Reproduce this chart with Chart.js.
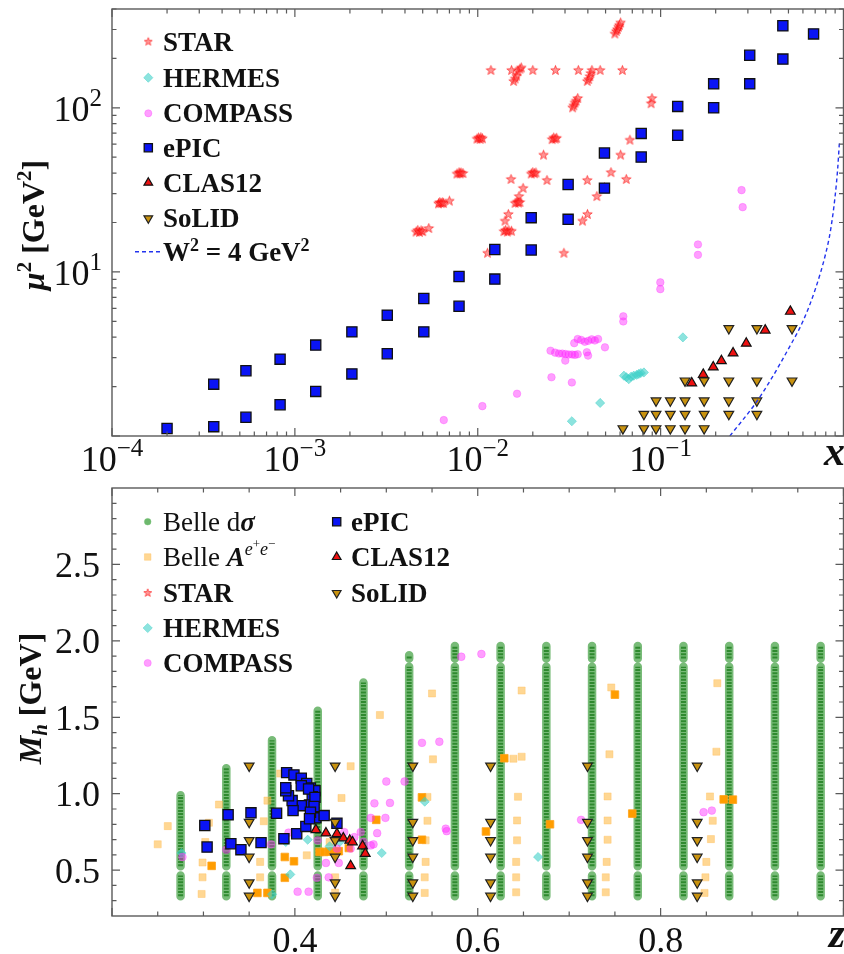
<!DOCTYPE html>
<html>
<head>
<meta charset="utf-8">
<script src="https://cdn.jsdelivr.net/npm/chart.js@4.4.1/dist/chart.umd.min.js"></script>
<style>
  html, body { margin: 0; padding: 0; background: #fff; overflow: hidden; width: 844px; height: 954px; }
  canvas { position: absolute; left: 0; }
  #top { top: 0; }
  #bottom { top: 474px; }
</style>
</head>
<body>
<canvas id="top" width="852" height="474"></canvas>
<canvas id="bottom" width="852" height="480"></canvas>
<script>
// ---------- top panel: mu^2 [GeV^2] vs x ----------
const starX = [
  0.0046, 0.0047, 0.0048, 0.0049, 0.0050, 0.0054,
  0.0061, 0.0062, 0.0063, 0.0064, 0.0065, 0.0070,
  0.0077, 0.0079, 0.0080, 0.0081, 0.0083,
  0.0099, 0.0101, 0.0103, 0.0104, 0.0106,
  0.0118, 0.0153, 0.0157, 0.0160, 0.0163, 0.0166, 0.0170, 0.0173, 0.0200, 0.0266, 0.0355,
  0.0397, 0.0404, 0.0410, 0.0415, 0.0421, 0.0467, 0.0618,
  0.0562, 0.0572, 0.0580, 0.0588, 0.0595, 0.0604,
  0.0330, 0.0335, 0.0340, 0.0345, 0.0352, 0.0887, 0.0897,
  0.0255, 0.0260, 0.0265, 0.0270, 0.0229,
  0.0196, 0.0200, 0.0204, 0.0208,
  0.0152, 0.0177, 0.0168, 0.0160, 0.0164, 0.0167, 0.0170, 0.0147, 0.0141,
  0.0139, 0.0142, 0.0145, 0.0148, 0.0153,
  0.0239, 0.0397, 0.0535, 0.0604, 0.0679, 0.0649, 0.0448, 0.0493, 0.0398, 0.0374, 0.0113, 0.0296
];
const starMu2 = [
  17.5, 17.9, 17.4, 17.8, 17.6, 18.4,
  26.0, 26.5, 26.1, 26.4, 26.2, 27.0,
  39.5, 40.2, 39.6, 40.1, 39.8,
  64.5, 65.5, 64.2, 65.8, 64.8,
  169, 169, 145, 150, 156, 166, 172, 175, 169, 169, 169,
  145, 149, 155, 162, 169, 169, 169,
  282, 292, 300, 310, 318, 329,
  100, 103, 107, 110, 114, 106, 114,
  64, 65.5, 64.5, 65.2, 51.5,
  39.5, 40.3, 39.7, 40.1,
  36.6, 32.3, 28.8, 26.2, 26.6, 26.3, 26.5, 22.4, 20.4,
  17.6, 17.9, 17.5, 17.8, 17.7,
  36.1, 36.1, 40.3, 51.5, 63.5, 36.6, 28.8, 32.6, 22.4, 20.4, 13.0, 13.0
];
const hermesX = [0.0327, 0.0467, 0.063, 0.065, 0.067, 0.069, 0.0713, 0.074, 0.076, 0.078, 0.081, 0.1324];
const hermesMu2 = [1.23, 1.59, 2.33, 2.28, 2.22, 2.30, 2.33, 2.36, 2.39, 2.42, 2.44, 3.99];
const compassX = [
  0.00652, 0.0106, 0.0164, 0.0253, 0.0327, 0.0301,
  0.0250, 0.0265, 0.0278, 0.0290, 0.0302, 0.0315, 0.0328, 0.0340, 0.0352,
  0.0337, 0.0352, 0.0368, 0.0385, 0.0402, 0.0420, 0.0437, 0.0455, 0.0496, 0.0395, 0.0401,
  0.0625, 0.0625, 0.0996, 0.0996, 0.160, 0.160, 0.277, 0.281
];
const compassMu2 = [
  1.25, 1.52, 1.81, 2.28, 2.12, 2.88,
  3.31, 3.22, 3.18, 3.18, 3.16, 3.14, 3.14, 3.12, 3.15,
  3.68, 3.90, 3.85, 3.75, 3.80, 3.88, 3.82, 3.90, 3.47, 3.24, 3.09,
  5.36, 4.99, 8.63, 7.85, 14.7, 12.7, 31.5, 24.8
];
const epicX = [
  2.0e-4, 3.6e-4, 3.6e-4, 5.4e-4, 5.4e-4, 8.3e-4, 8.3e-4, 1.3e-3, 1.3e-3,
  2.05e-3, 2.05e-3, 3.2e-3, 3.2e-3, 5.07e-3, 5.07e-3, 7.9e-3, 7.9e-3,
  0.0124, 0.0124, 0.0196, 0.0196, 0.0312, 0.0312, 0.0493, 0.0493,
  0.0783, 0.0783, 0.124, 0.124, 0.195, 0.195, 0.307, 0.307, 0.466, 0.466, 0.686
];
const epicMu2 = [
  1.11, 2.07, 1.14, 2.50, 1.30, 2.94, 1.55, 3.58, 1.87,
  4.31, 2.39, 5.45, 3.17, 6.89, 4.31, 9.37, 6.17,
  13.7, 9.04, 21.4, 13.6, 34.1, 20.9, 53, 32.4,
  69.8, 50.1, 102, 68, 140, 100, 209, 140, 316, 198, 282
];
const clasX = [0.148, 0.171, 0.194, 0.215, 0.249, 0.294, 0.373, 0.512];
const clasMu2 = [2.10, 2.37, 2.63, 2.87, 3.20, 3.67, 4.41, 5.74];
const solidX = [
  0.0622, 0.081, 0.0944, 0.113, 0.136, 0.173,
  0.081, 0.0944, 0.113, 0.136, 0.173, 0.236, 0.336,
  0.0944, 0.113, 0.136, 0.173, 0.236, 0.336,
  0.136, 0.173, 0.236, 0.336, 0.523,
  0.236, 0.336, 0.523
];
const solidMu2 = [
  1.11, 1.11, 1.11, 1.11, 1.11, 1.11,
  1.36, 1.36, 1.36, 1.36, 1.36, 1.36, 1.36,
  1.64, 1.64, 1.64, 1.64, 1.64, 1.64,
  2.17, 2.17, 2.17, 2.17, 2.17,
  4.53, 4.53, 4.53
];
// W^2 = 4 GeV^2 boundary
const w2X = [0.239, 0.33, 0.40, 0.50, 0.60, 0.70, 0.80, 0.85, 0.90, 0.93, 0.95];
const w2Mu2 = [1.0, 1.58, 2.2, 3.4, 5.0, 7.8, 13, 18, 29, 43, 62];

const topXTicks = [1e-4, 1e-3, 1e-2, 1e-1];
const topXTickLabels = [['10', '−4'], ['10', '−3'], ['10', '−2'], ['10', '−1']];
const topYTicks = [1, 10, 100];
const topYTickLabels = [null, ['10', '1'], ['10', '2']];

// ---------- bottom panel: M_h [GeV] vs z ----------
const belleZ = [0.275, 0.325, 0.375, 0.425, 0.475, 0.525, 0.575, 0.625, 0.675, 0.725, 0.775, 0.825, 0.875, 0.925, 0.975];
const belleMTop = [0.99, 1.167, 1.35, 1.542, 1.728, 1.906, 1.967, 1.967, 1.967, 1.967, 1.967, 1.967, 1.967, 1.967, 1.967];
const belleMBottom = 0.33;
const belleGaps = [[0.465, 0.525], [1.83, 1.885]];

const belleAZ = [
  0.261, 0.250, 0.299, 0.299, 0.298, 0.302, 0.306, 0.317, 0.370, 0.366, 0.362, 0.362, 0.384, 0.413,
  0.451, 0.461, 0.493, 0.551, 0.545, 0.545, 0.543, 0.543, 0.542, 0.542, 0.444, 0.444, 0.438, 0.550,
  0.648, 0.644, 0.643, 0.643, 0.642, 0.642, 0.642, 0.639, 0.648,
  0.746, 0.744, 0.742, 0.742, 0.742, 0.741, 0.740, 0.740,
  0.862, 0.861, 0.854, 0.857, 0.855, 0.850, 0.849, 0.848
];
const belleAM = [
  0.788, 0.669, 0.550, 0.453, 0.344, 0.684, 0.810, 0.929, 0.955, 0.820, 0.554, 0.453, 1.132, 0.597,
  0.972, 1.180, 1.515, 1.225, 0.979, 0.823, 0.695, 0.554, 0.453, 0.351, 0.453, 0.353, 0.684, 1.656,
  1.675, 0.980, 0.825, 0.695, 0.554, 0.453, 0.355, 1.229, 1.242,
  1.695, 1.258, 0.982, 0.825, 0.699, 0.554, 0.453, 0.355,
  1.723, 1.275, 0.982, 0.823, 0.703, 0.554, 0.453, 0.351
];
// overlapping Belle A points that show up saturated
const belleA2Z = [0.309, 0.389, 0.399, 0.389, 0.359, 0.370, 0.427, 0.432, 0.437, 0.442, 0.448, 0.459, 0.489,
  0.539, 0.539, 0.629, 0.609, 0.679, 0.750, 0.769, 0.869, 0.879];
const belleA2M = [0.528, 0.586, 0.558, 0.450, 0.351, 0.351, 0.619, 0.619, 0.621, 0.622, 0.624, 0.645, 0.829,
  0.976, 0.699, 1.232, 0.753, 0.800, 1.648, 0.870, 0.963, 0.961];

const hermesZ = [0.276, 0.395, 0.390, 0.375, 0.414, 0.438, 0.449, 0.495, 0.542, 0.666];
const hermesM = [0.612, 0.472, 0.684, 0.342, 0.699, 0.656, 0.684, 0.612, 0.948, 0.586];

const compassZ = [
  0.277, 0.325, 0.374, 0.393, 0.403, 0.415, 0.424, 0.434, 0.437, 0.448, 0.446, 0.454, 0.465, 0.472,
  0.475, 0.483, 0.486, 0.483, 0.490, 0.487, 0.499, 0.504, 0.500, 0.520, 0.539, 0.558, 0.565, 0.566,
  0.461, 0.425, 0.582, 0.604, 0.713, 0.847, 0.856
];
const compassM = [
  0.586, 0.634, 0.669, 0.745, 0.359, 0.359, 0.450, 0.547, 0.453, 0.547, 0.641, 0.749, 0.716, 0.749,
  0.684, 0.662, 0.669, 0.842, 0.742, 0.937, 0.842, 0.940, 1.080, 1.080, 1.333, 1.340, 0.771, 0.755,
  0.641, 0.695, 1.896, 1.914, 0.829, 0.879, 0.890
];

const epicZ = [
  0.3015, 0.304, 0.327, 0.330, 0.341, 0.352, 0.363, 0.380, 0.388, 0.402, 0.412, 0.423, 0.432, 0.446,
  0.391, 0.399, 0.407, 0.413, 0.417, 0.422, 0.419, 0.416, 0.407, 0.398, 0.397, 0.393, 0.390, 0.390,
  0.407, 0.415, 0.422, 0.421, 0.417, 0.416
];
const epicM = [
  0.792, 0.651, 0.862, 0.673, 0.634, 0.875, 0.680, 0.872, 0.706, 0.738, 0.786, 0.842, 0.857, 0.807,
  1.138, 1.123, 1.102, 1.067, 1.037, 1.019, 0.981, 0.927, 0.922, 0.890, 0.955, 0.987, 1.019, 1.039,
  1.052, 1.031, 0.976, 0.916, 0.879, 0.836
];

const clasZ = [0.423, 0.434, 0.446, 0.453, 0.460, 0.463, 0.474, 0.477, 0.461];
const clasM = [0.764, 0.742, 0.738, 0.710, 0.695, 0.684, 0.658, 0.608, 0.528];

const solidZCols = [0.350, 0.444, 0.529, 0.614, 0.720, 0.840];
const solidMRows = [1.182, 0.814, 0.695, 0.586, 0.418, 0.331];

const botXTicks = [0.4, 0.6, 0.8];
const botXTickLabels = ['0.4', '0.6', '0.8'];
const botYTicks = [0.5, 1.0, 1.5, 2.0, 2.5];
const botYTickLabels = ['0.5', '1.0', '1.5', '2.0', '2.5'];

// ---------- helpers ----------
const F = "'Liberation Serif', 'DejaVu Serif', serif";
const pts = (xs, ys) => xs.map((v, i) => ({ x: v, y: ys[i] }));

function starImage(r) {
  const s = Math.ceil(2 * r + 3);
  const c = document.createElement('canvas');
  c.width = s; c.height = s;
  const g = c.getContext('2d');
  g.beginPath();
  for (let i = 0; i < 10; i++) {
    const rr = i % 2 ? r * 0.42 : r;
    const a = -Math.PI / 2 + i * Math.PI / 5;
    g.lineTo(s / 2 + rr * Math.cos(a), s / 2 + rr * Math.sin(a));
  }
  g.closePath();
  g.fillStyle = 'rgba(255,60,60,0.55)';
  g.fill();
  g.strokeStyle = 'rgba(255,0,0,0.6)';
  g.lineWidth = 0.9;
  g.stroke();
  return c;
}
const starImg = starImage(5);
const starImgSmall = starImage(4.2);

// draws a run of [text, font, dy] pieces
function rich(ctx, parts, x, y, align) {
  let w = 0;
  parts.forEach(p => { ctx.font = p[1]; w += ctx.measureText(p[0]).width; });
  let cx = align === 'center' ? x - w / 2 : align === 'right' ? x - w : x;
  ctx.textAlign = 'left';
  ctx.textBaseline = 'alphabetic';
  parts.forEach(p => {
    ctx.font = p[1];
    ctx.fillText(p[0], cx, y + (p[2] || 0));
    cx += ctx.measureText(p[0]).width;
  });
}

function drawFrame(chart, xMaj, xMin, yMaj, yMin) {
  const { ctx, chartArea: a, scales: { x, y } } = chart;
  ctx.save();
  ctx.strokeStyle = '#5a5a5a';
  ctx.lineWidth = 1.2;
  ctx.beginPath();
  const seg = (x1, y1, x2, y2) => { ctx.moveTo(x1, y1); ctx.lineTo(x2, y2); };
  xMaj.forEach(v => { const p = x.getPixelForValue(v); seg(p, a.bottom, p, a.bottom - 8); seg(p, a.top, p, a.top + 8); });
  xMin.forEach(v => { const p = x.getPixelForValue(v); seg(p, a.bottom, p, a.bottom - 4.5); seg(p, a.top, p, a.top + 4.5); });
  yMaj.forEach(v => { const p = y.getPixelForValue(v); seg(a.left, p, a.left + 8, p); seg(a.right, p, a.right - 8, p); });
  yMin.forEach(v => { const p = y.getPixelForValue(v); seg(a.left, p, a.left + 4.5, p); seg(a.right, p, a.right - 4.5, p); });
  ctx.stroke();
  ctx.lineWidth = 1.4;
  ctx.strokeRect(a.left, a.top, a.right - a.left, a.bottom - a.top);
  ctx.restore();
}

function legendMark(ctx, m, x, y) {
  ctx.save();
  ctx.fillStyle = m.bg;
  ctx.strokeStyle = m.border || m.bg;
  ctx.lineWidth = m.bw || 0;
  Chart.helpers.drawPoint(ctx, { pointStyle: m.style, radius: m.r, rotation: m.rot || 0, borderWidth: m.bw || 0 }, x, y);
  ctx.restore();
}

const sty = {
  star: { style: starImgSmall, r: 4.2, bg: 'rgba(255,70,70,0.5)' },
  hermes: { style: 'rectRot', r: 4.6, bg: 'rgba(64,208,200,0.6)', border: 'rgba(64,208,200,0.6)', bw: 0.8 },
  compass: { style: 'circle', r: 3.6, bg: 'rgba(255,40,255,0.45)', border: 'rgba(255,40,255,0.35)', bw: 0.8 },
  epic: { style: 'rect', r: 5.8, bg: '#0a14f5', border: '#111', bw: 1.3 },
  clas: { style: 'triangle', r: 5, bg: '#ee1111', border: '#111', bw: 1.2 },
  solid: { style: 'triangle', r: 5, rot: 180, bg: '#c8920f', border: '#222', bw: 1.2 },
  belle: { style: 'circle', r: 3.3, bg: 'rgba(60,160,60,0.75)', border: 'rgba(110,190,110,0.6)', bw: 0.8 },
  belleA: { style: 'rect', r: 4.6, bg: 'rgba(255,175,40,0.5)', border: 'rgba(255,190,90,0.5)', bw: 0.8 }
};

const minorLog = [];
[1e-4, 1e-3, 1e-2, 1e-1].forEach(d => { for (let k = 2; k <= 9; k++) minorLog.push(k * d); });
const minorLogY = [];
[1, 10, 100].forEach(d => { for (let k = 2; k <= 9; k++) if (k * d <= 400) minorLogY.push(k * d); });

const LF = 'bold 27px ' + F;

// ---------- top chart ----------
const topDecor = {
  id: 'topDecor',
  afterDraw(chart) {
    const { ctx, scales: { x, y } } = chart;
    drawFrame(chart, topXTicks, minorLog, topYTicks, minorLogY);
    ctx.save();
    ctx.fillStyle = '#111';
    topXTicks.forEach((v, i) => {
      rich(ctx, [[topXTickLabels[i][0], '36px ' + F], [topXTickLabels[i][1], '25px ' + F, -15]], x.getPixelForValue(v), 471, 'center');
    });
    topYTicks.forEach((v, i) => {
      if (!topYTickLabels[i]) return;
      rich(ctx, [[topYTickLabels[i][0], '36px ' + F], [topYTickLabels[i][1], '25px ' + F, -15]], 102, y.getPixelForValue(v) + 13.5, 'right');
    });
    rich(ctx, [['x', 'bold italic 42px ' + F]], 845, 465, 'right');
    // axis title
    ctx.save();
    ctx.translate(44, 225);
    ctx.rotate(-Math.PI / 2);
    rich(ctx, [['μ', 'bold italic 32px ' + F], ['2', 'bold 21px ' + F, -13], [' [GeV', 'bold 32px ' + F], ['2', 'bold 21px ' + F, -13], [']', 'bold 32px ' + F]], 0, 0, 'center');
    ctx.restore();
    // legend
    const rows = [
      [sty.star, [['STAR', LF]]],
      [sty.hermes, [['HERMES', LF]]],
      [sty.compass, [['COMPASS', LF]]],
      [sty.epic, [['ePIC', LF]]],
      [sty.clas, [['CLAS12', LF]]],
      [sty.solid, [['SoLID', LF]]]
    ];
    const ys = [41.7, 77.7, 113.3, 147.7, 182.7, 218.3];
    rows.forEach((r, i) => {
      legendMark(ctx, r[0], 148.3, ys[i]);
      ctx.fillStyle = '#111';
      rich(ctx, r[1], 163, ys[i] + 9, 'left');
    });
    ctx.save();
    ctx.strokeStyle = '#2233ee';
    ctx.lineWidth = 1.4;
    ctx.setLineDash([4, 3]);
    ctx.beginPath(); ctx.moveTo(135, 251.7); ctx.lineTo(160, 251.7); ctx.stroke();
    ctx.restore();
    rich(ctx, [['W', LF], ['2', 'bold 18px ' + F, -10], [' = 4 GeV', LF], ['2', 'bold 18px ' + F, -10]], 163, 260.7, 'left');
    ctx.restore();
  }
};

function ds(label, data, s, order) {
  return {
    label, data, order,
    pointStyle: s.style, pointRadius: s.r, pointRotation: s.rot || 0,
    backgroundColor: s.bg, borderColor: s.border || s.bg, borderWidth: s.bw || 0,
    showLine: false
  };
}

new Chart(document.getElementById('top'), {
  type: 'scatter',
  data: {
    datasets: [
      ds('STAR', pts(starX, starMu2), { style: starImg, r: 5, bg: 'rgba(255,70,70,0.5)' }, 7),
      ds('HERMES', pts(hermesX, hermesMu2), sty.hermes, 6),
      ds('COMPASS', pts(compassX, compassMu2), Object.assign({}, sty.compass, { r: 3.8 }), 5),
      ds('ePIC', pts(epicX, epicMu2), Object.assign({}, sty.epic, { r: 7.2 }), 4),
      ds('CLAS12', pts(clasX, clasMu2), Object.assign({}, sty.clas, { r: 5.6 }), 3),
      ds('SoLID', pts(solidX, solidMu2), Object.assign({}, sty.solid, { r: 5.6 }), 2),
      {
        label: 'W² = 4 GeV²', data: pts(w2X, w2Mu2), order: 1,
        showLine: true, pointRadius: 0, borderColor: '#2233ee', borderWidth: 1.4,
        borderDash: [4, 3], cubicInterpolationMode: 'monotone'
      }
    ]
  },
  options: {
    responsive: false, animation: false, events: [],
    layout: { padding: { left: 112, top: 9, right: 2, bottom: 38 } },
    scales: {
      x: { type: 'logarithmic', min: 1e-4, max: 1, display: false },
      y: { type: 'logarithmic', min: 1, max: 400, display: false }
    },
    plugins: { legend: { display: false }, tooltip: { enabled: false } }
  },
  plugins: [topDecor]
});

// ---------- bottom chart ----------
const belleCols = [];
belleZ.forEach((z, i) => {
  const top = belleMTop[i];
  const pieces = [[belleMBottom, belleGaps[0][0]], [belleGaps[0][1], Math.min(top, belleGaps[1][0])]];
  if (top > belleGaps[1][1]) pieces.push([belleGaps[1][1], top]);
  pieces.forEach(p => {
    belleCols.push({ x: z, y: p[0] }, { x: z, y: p[1] }, { x: z, y: null });
  });
});

const solidPts = [];
solidZCols.forEach(z => solidMRows.forEach(m => solidPts.push({ x: z, y: m })));

const botMinorX = [];
for (let k = 5; k <= 19; k++) { const v = k * 0.05; if (k % 4 !== 0) botMinorX.push(v); }
const botMinorY = [];
for (let k = 3; k <= 29; k++) { if (k % 5 !== 0) botMinorY.push(k / 10); }

const botDecor = {
  id: 'botDecor',
  afterDraw(chart) {
    const { ctx, scales: { x, y } } = chart;
    drawFrame(chart, [0.2, 0.4, 0.6, 0.8, 1.0], botMinorX, [0.5, 1.0, 1.5, 2.0, 2.5], botMinorY);
    ctx.save();
    ctx.fillStyle = '#111';
    botXTicks.forEach((v, i) => rich(ctx, [[botXTickLabels[i], '36px ' + F]], x.getPixelForValue(v), 478, 'center'));
    botYTicks.forEach((v, i) => rich(ctx, [[botYTickLabels[i], '36px ' + F]], 100, y.getPixelForValue(v) + 12.5, 'right'));
    rich(ctx, [['z', 'bold italic 42px ' + F]], 845, 473, 'right');
    ctx.save();
    ctx.translate(41, 224.5);
    ctx.rotate(-Math.PI / 2);
    rich(ctx, [['M', 'bold italic 32px ' + F], ['h', 'bold italic 21px ' + F, 6], [' [GeV]', 'bold 32px ' + F]], 0, 0, 'center');
    ctx.restore();
    const rowY = [47.7, 83, 119, 154, 189];
    const col1 = [
      [sty.belle, [['Belle d', '27px ' + F], ['σ', 'bold italic 27px ' + F]]],
      [sty.belleA, [['Belle ', '27px ' + F], ['A', 'bold italic 27px ' + F], ['e', 'italic 18px ' + F, -11], ['+', '13px ' + F, -18], ['e', 'italic 18px ' + F, -11], ['−', '13px ' + F, -18]]],
      [sty.star, [['STAR', LF]]],
      [sty.hermes, [['HERMES', LF]]],
      [sty.compass, [['COMPASS', LF]]]
    ];
    const col2 = [
      [sty.epic, [['ePIC', LF]]],
      [sty.clas, [['CLAS12', LF]]],
      [sty.solid, [['SoLID', LF]]]
    ];
    col1.forEach((r, i) => { legendMark(ctx, r[0], 147.7, rowY[i]); ctx.fillStyle = '#111'; rich(ctx, r[1], 163, rowY[i] + 9, 'left'); });
    col2.forEach((r, i) => { legendMark(ctx, r[0], 336.7, rowY[i]); ctx.fillStyle = '#111'; rich(ctx, r[1], 351, rowY[i] + 9, 'left'); });
    ctx.restore();
  }
};

new Chart(document.getElementById('bottom'), {
  type: 'scatter',
  data: {
    datasets: [
      {
        label: 'Belle dσ', data: belleCols, order: 12, showLine: true, spanGaps: false,
        pointRadius: 0, borderColor: 'rgba(105,180,105,0.9)', borderWidth: 8.5, borderCapStyle: 'round'
      },
      {
        label: 'Belle dσ core', data: belleCols, order: 11, showLine: true, spanGaps: false,
        pointRadius: 0, borderColor: '#2f8a2f', borderWidth: 5, borderDash: [2, 1.2]
      },
      ds('Belle A', pts(belleAZ, belleAM), Object.assign({}, sty.belleA, { r: 5 }), 10),
      ds('Belle A overlap', pts(belleA2Z, belleA2M), { style: 'rect', r: 5.4, bg: '#ff9d00', border: '#ffa31a', bw: 0.8 }, 9),
      ds('HERMES', pts(hermesZ, hermesM), sty.hermes, 8),
      ds('COMPASS', pts(compassZ, compassM), Object.assign({}, sty.compass, { r: 3.9 }), 7),
      ds('ePIC', pts(epicZ, epicM), Object.assign({}, sty.epic, { r: 7.2 }), 6),
      ds('CLAS12', pts(clasZ, clasM), Object.assign({}, sty.clas, { r: 5.6 }), 5),
      ds('SoLID', solidPts, Object.assign({}, sty.solid, { r: 5.6 }), 4)
    ]
  },
  options: {
    responsive: false, animation: false, events: [],
    layout: { padding: { left: 112, top: 14, right: 2, bottom: 38 } },
    scales: {
      x: { type: 'linear', min: 0.2, max: 1.0, display: false },
      y: { type: 'linear', min: 0.2, max: 3.0, display: false }
    },
    plugins: { legend: { display: false }, tooltip: { enabled: false } }
  },
  plugins: [botDecor]
});
</script>
</body>
</html>
